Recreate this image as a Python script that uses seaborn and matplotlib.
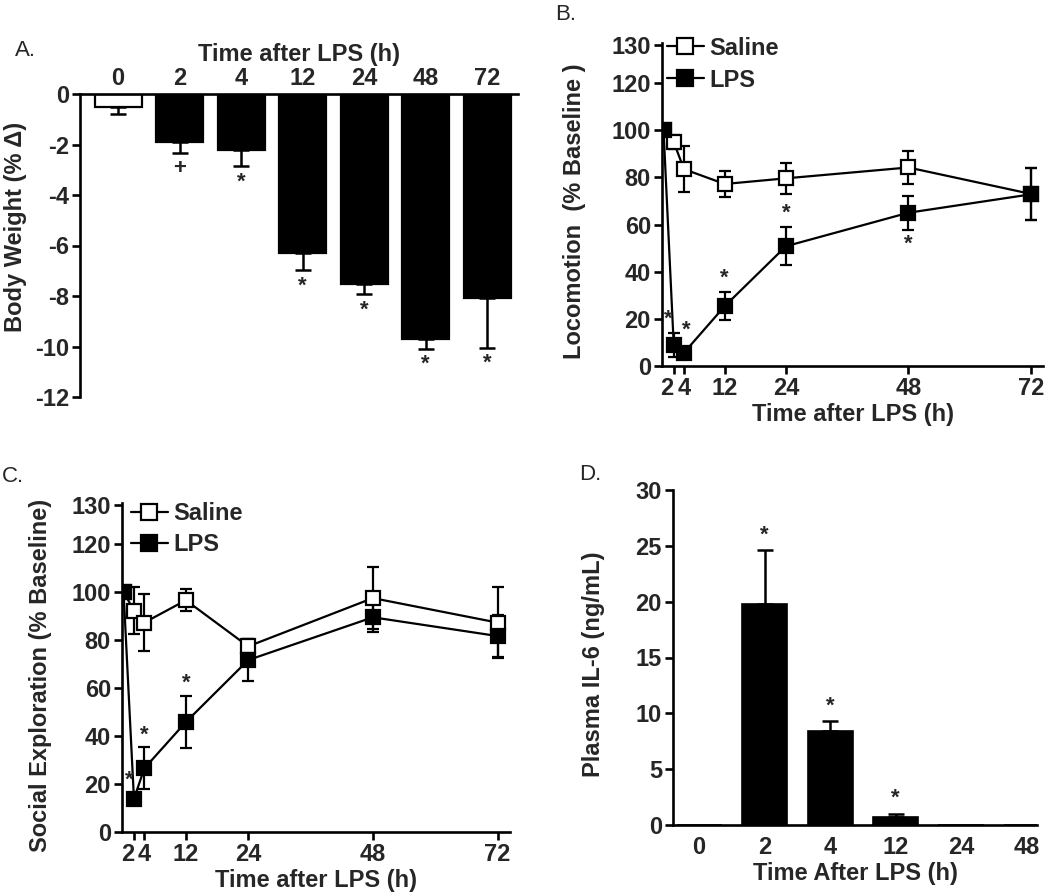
import numpy as np
import pandas as pd
import matplotlib
matplotlib.use("Agg")
import matplotlib.pyplot as plt
import seaborn as sns
from matplotlib.lines import Line2D

sns.set_style("ticks")
plt.rcParams['font.family'] = ['Liberation Sans', 'DejaVu Sans']
plt.rcParams['font.weight'] = 'bold'
plt.rcParams['axes.labelweight'] = 'bold'
plt.rcParams['axes.unicode_minus'] = False

# ---------------- data ----------------
# Panel A: body weight change
a_times = ["0", "2", "4", "12", "24", "48", "72"]
a_weight = [-0.53, -1.92, -2.22, -6.29, -7.53, -9.72, -8.07]
a_sem = [0.27, 0.41, 0.63, 0.68, 0.40, 0.36, 1.97]
a_marks = ["", "+", "*", "*", "*", "*", "*"]

# Panel B: locomotion
b_hours = [0, 2, 4, 12, 24, 48, 72]
b_saline = [100, 95, 83.5, 77.2, 79.6, 84.2, 73]
b_saline_sem = [0, 3, 9.9, 5.5, 6.7, 7.0, 11]
b_lps = [100, 8.9, 5.6, 25.4, 50.8, 65.0, 72.8]
b_lps_sem = [0, 5, 2, 6, 8, 7.3, 11]
b_marks = ["", "*", "*", "*", "*", "*", ""]

# Panel C: social exploration
c_hours = [0, 2, 4, 12, 24, 48, 72]
c_saline = [100, 92.2, 87.2, 96.5, 77.3, 97.4, 87.2]
c_saline_sem = [0, 9.8, 11.7, 4.6, 3.0, 12.8, 14.9]
c_lps = [100, 13.8, 26.5, 45.8, 71.6, 89.4, 81.6]
c_lps_sem = [0, 2, 8.7, 11, 8.8, 6.0, 8.8]
c_marks = ["", "*", "*", "*", "", "", ""]

# Panel D: plasma IL-6
d_times = ["0", "2", "4", "12", "24", "48"]
d_il6 = [0, 19.8, 8.4, 0.75, 0, 0]
d_sem = [0, 4.8, 0.9, 0.25, 0, 0]
d_marks = ["", "*", "*", "*", "", ""]

line_ticks = [2, 4, 12, 24, 48, 72]
pct_ticks = [0, 20, 40, 60, 80, 100, 120, 130]

# ---------------- figure ----------------
W, H = 1050, 893
fig = plt.figure(figsize=(W / 100, H / 100), dpi=100)

def axes_px(l, r, t, b):
    return fig.add_axes([l / W, 1 - b / H, (r - l) / W, (b - t) / H])

TFS = 17
LFS = 17
LW = 1.9

axA = axes_px(80, 518, 94, 397)
axB = axes_px(662, 1043, 43, 366)
axC = axes_px(122, 510, 503, 832)
axD = axes_px(673, 1037, 490, 825)

def style_spines(ax):
    for s in ax.spines.values():
        s.set_linewidth(LW)
        s.set_color('black')
    ax.tick_params(width=LW, length=6, labelsize=TFS, color='black')

# ---- Panel A ----
dfA = pd.DataFrame({"time": a_times, "weight": a_weight})
sns.barplot(data=dfA, x="time", y="weight", hue="time", order=a_times,
            palette=["white"] + ["black"] * 6, legend=False, width=0.76,
            edgecolor="black", linewidth=1.6, errorbar=None, ax=axA)
xa = np.arange(len(a_times))
axA.errorbar(xa, a_weight, yerr=[a_sem, np.zeros(len(a_sem))], fmt='none',
             ecolor='black', elinewidth=1.8, capsize=6, capthick=1.8, zorder=1)
for i, m in enumerate(a_marks):
    if m:
        axA.annotate(m, xy=(i, a_weight[i] - a_sem[i]), xytext=(0, -4),
                     textcoords='offset points', ha='center', va='top',
                     fontsize=16, fontweight='bold')
axA.set_ylim(-12, 0)
axA.set_xlim(-0.62, 6.5)
axA.set_yticks(np.arange(-12, 1, 2))
axA.xaxis.tick_top()
axA.xaxis.set_label_position('top')
axA.spines['bottom'].set_visible(False)
axA.spines['right'].set_visible(False)
style_spines(axA)
axA.tick_params(axis='x', length=0, pad=3)
axA.tick_params(axis='y', pad=2)
axA.set_xlabel("Time after LPS (h)", fontsize=LFS, labelpad=4)
axA.set_ylabel("Body Weight (% \u0394)", fontsize=LFS)
axA.yaxis.set_label_coords(-0.122, 0.56)

# ---- line panels ----
def line_panel(ax, hours, sal, sal_e, lps, lps_e, align):
    for vals, errs, fc in [(sal, sal_e, 'white'), (lps, lps_e, 'black')]:
        ax.errorbar(hours, vals, yerr=errs, fmt='none', ecolor='black',
                    elinewidth=1.6, capsize=4.5, capthick=1.6, zorder=2)
        sns.lineplot(x=hours, y=vals, ax=ax, color='black', linewidth=1.6,
                     marker='s', markersize=10, markerfacecolor=fc,
                     markeredgecolor='black', markeredgewidth=1.6,
                     errorbar=None, zorder=3)
    top = 136
    ax.set_xlim(-0.3, 74.4)
    ax.set_ylim(0, top + 1)
    ax.set_xticks(line_ticks)
    # the reference draws its "130" tick at the very top of the axis
    ax.set_yticks(pct_ticks[:-1] + [top], labels=[str(t) for t in pct_ticks])
    sns.despine(ax=ax)
    style_spines(ax)
    ax.tick_params(axis='both', pad=2)
    for lab, ha in zip(ax.get_xticklabels(), align):
        lab.set_ha(ha)
    handles = [Line2D([], [], color='black', lw=1.6, marker='s', markersize=11,
                      markerfacecolor='white', markeredgecolor='black', markeredgewidth=1.6),
               Line2D([], [], color='black', lw=1.6, marker='s', markersize=11,
                      markerfacecolor='black', markeredgecolor='black', markeredgewidth=1.6)]
    return handles

hB = line_panel(axB, b_hours, b_saline, b_saline_sem, b_lps, b_lps_sem,
                ['right', 'center', 'center', 'center', 'center', 'center'])
axB.legend(hB, ["Saline", "LPS"], loc='upper left', bbox_to_anchor=(0.012, 1.02),
           frameon=False, fontsize=TFS, handlelength=1.6, handletextpad=0.2,
           labelspacing=0.38, borderpad=0, borderaxespad=0)
axB.set_ylabel("Locomotion  (% Baseline )", fontsize=LFS)
axB.yaxis.set_label_coords(-0.2, 0.48)
axB.set_xlabel("Time after LPS (h)", fontsize=LFS, labelpad=2)
b_off = [None, (-4, 10), (2, 16), (0, 10), (0, 10), (0, -10), None]
for i, m in enumerate(b_marks):
    if m:
        dx, dy = b_off[i]
        if dy > 0:
            y = b_lps[i] + b_lps_sem[i] if i != 2 else b_lps[i]
        else:
            y = b_lps[i] - b_lps_sem[i]
        axB.annotate(m, xy=(b_hours[i], y), xytext=(dx, dy), textcoords='offset points',
                     ha='center', va='center', fontsize=16, fontweight='bold')

hC = line_panel(axC, c_hours, c_saline, c_saline_sem, c_lps, c_lps_sem,
                ['right', 'center', 'center', 'center', 'center', 'center'])
axC.legend(hC, ["Saline", "LPS"], loc='upper left', bbox_to_anchor=(0.022, 1.003),
           frameon=False, fontsize=TFS, handlelength=1.6, handletextpad=0.2,
           labelspacing=0.35, borderpad=0, borderaxespad=0)
axC.set_ylabel("Social Exploration (% Baseline)", fontsize=LFS)
axC.yaxis.set_label_coords(-0.18, 0.475)
axC.set_xlabel("Time after LPS (h)", fontsize=LFS, labelpad=2)
c_off = [None, (-3, 10), (0, 9), (0, 9), None, None, None]
for i, m in enumerate(c_marks):
    if m:
        dx, dy = c_off[i]
        axC.annotate(m, xy=(c_hours[i], c_lps[i] + c_lps_sem[i]), xytext=(dx, dy),
                     textcoords='offset points', ha='center', va='center',
                     fontsize=16, fontweight='bold')

# ---- Panel D ----
dfD = pd.DataFrame({"time": d_times, "il6": d_il6})
sns.barplot(data=dfD, x="time", y="il6", order=d_times, color="black",
            width=0.69, edgecolor="black", linewidth=1.2, errorbar=None, ax=axD)
xd = np.arange(len(d_times))
mask = np.array(d_sem) > 0
axD.errorbar(xd[mask], np.array(d_il6)[mask],
             yerr=[np.zeros(mask.sum()), np.array(d_sem)[mask]], fmt='none',
             ecolor='black', elinewidth=1.8, capsize=6, capthick=1.8, zorder=1)
for i, m in enumerate(d_marks):
    if m:
        axD.annotate(m, xy=(i, d_il6[i] + d_sem[i]), xytext=(0, 11),
                     textcoords='offset points', ha='center', va='center',
                     fontsize=16, fontweight='bold')
axD.set_ylim(0, 30)
axD.set_xlim(-0.4, 5.16)
axD.set_yticks([0, 5, 10, 15, 20, 25, 30])
sns.despine(ax=axD)
style_spines(axD)
axD.tick_params(axis='x', length=0, pad=8)
axD.tick_params(axis='y', pad=2)
axD.set_ylabel("Plasma IL-6 (ng/mL)", fontsize=LFS)
axD.yaxis.set_label_coords(-0.187, 0.48)
axD.set_xlabel("Time After LPS (h)", fontsize=LFS, labelpad=2)

# ---- panel letters ----
for txt, x, y in [("A.", 25, 50), ("B.", 566, 15), ("C.", 13, 476), ("D.", 590, 475)]:
    fig.text(x / W, 1 - y / H, txt, ha='center', va='center', fontsize=16, fontweight='normal')

fig.savefig("out.png", dpi=100)
